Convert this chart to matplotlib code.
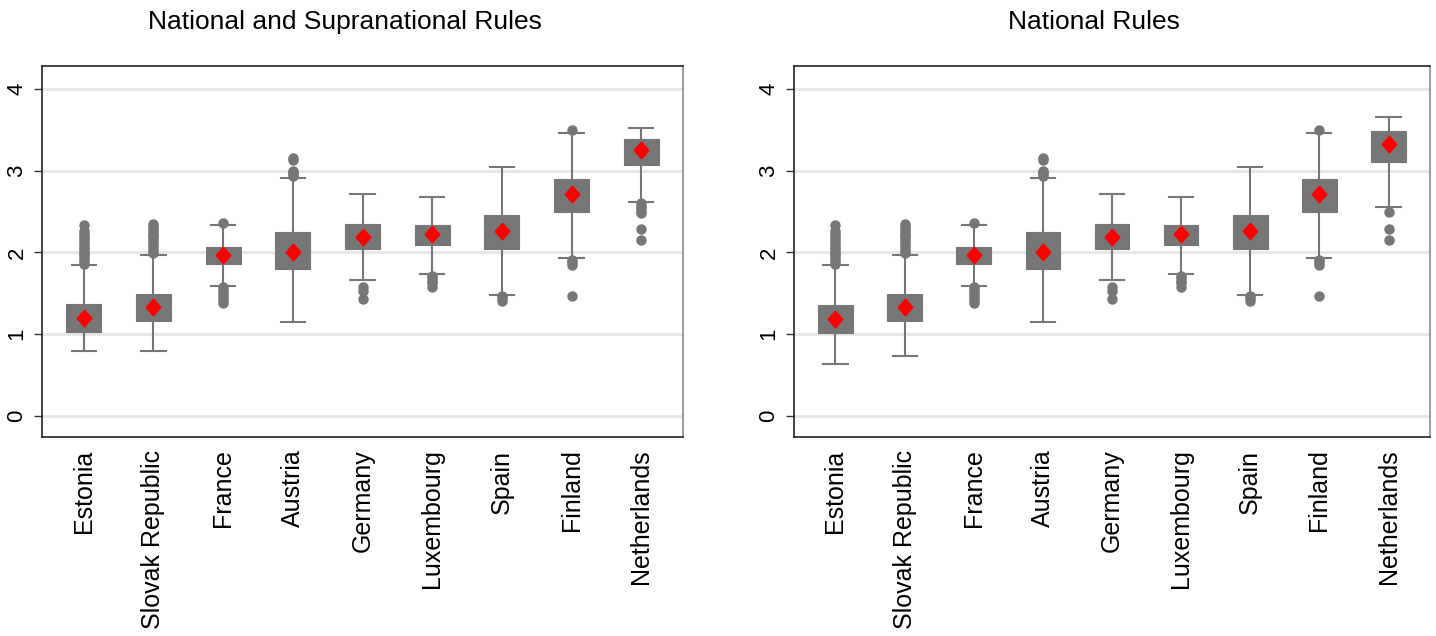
import numpy as np
import matplotlib
matplotlib.use("Agg")
import matplotlib.pyplot as plt

# Countries, in plotting order
countries = ["Estonia", "Slovak Republic", "France", "Austria", "Germany",
             "Luxembourg", "Spain", "Finland", "Netherlands"]

# Panel 1: National and Supranational Rules
q1_sup = [1.03, 1.16, 1.86, 1.80, 2.04, 2.09, 2.04, 2.49, 3.07]
q3_sup = [1.37, 1.49, 2.06, 2.25, 2.35, 2.34, 2.46, 2.90, 3.39]
mean_sup = [1.20, 1.33, 1.97, 2.01, 2.19, 2.22, 2.26, 2.71, 3.25]
wlo_sup = [0.79, 0.79, 1.59, 1.15, 1.66, 1.73, 1.48, 1.93, 2.62]
whi_sup = [1.84, 1.97, 2.34, 2.91, 2.71, 2.68, 3.05, 3.46, 3.52]
out_sup = [
    [1.86, 1.89, 1.92, 1.95, 1.98, 2.01, 2.04, 2.07, 2.10, 2.13, 2.16, 2.19, 2.22, 2.26, 2.33],
    [1.99, 2.02, 2.05, 2.08, 2.11, 2.14, 2.17, 2.20, 2.23, 2.26, 2.29, 2.32, 2.35],
    [2.36, 1.57, 1.54, 1.51, 1.48, 1.45, 1.42, 1.38],
    [2.93, 2.96, 2.98, 3.00, 3.13, 3.16],
    [1.57, 1.53, 1.43],
    [1.71, 1.68, 1.65, 1.62, 1.58],
    [1.46, 1.44, 1.41],
    [3.50, 1.91, 1.88, 1.85, 1.46],
    [2.60, 2.57, 2.54, 2.51, 2.48, 2.28, 2.15],
]

# Panel 2: National Rules
q1_nat = [1.01, 1.16, 1.86, 1.80, 2.04, 2.09, 2.04, 2.49, 3.11]
q3_nat = [1.36, 1.49, 2.06, 2.25, 2.35, 2.34, 2.46, 2.90, 3.49]
mean_nat = [1.19, 1.33, 1.97, 2.01, 2.19, 2.22, 2.26, 2.71, 3.33]
wlo_nat = [0.63, 0.73, 1.59, 1.15, 1.66, 1.73, 1.48, 1.93, 2.56]
whi_nat = [1.84, 1.97, 2.34, 2.91, 2.71, 2.68, 3.05, 3.46, 3.66]
out_nat = [
    [1.86, 1.89, 1.92, 1.95, 1.98, 2.01, 2.04, 2.07, 2.10, 2.13, 2.16, 2.19, 2.22, 2.26, 2.33],
    [1.99, 2.02, 2.05, 2.08, 2.11, 2.14, 2.17, 2.20, 2.23, 2.26, 2.29, 2.32, 2.35],
    [2.36, 1.57, 1.54, 1.51, 1.48, 1.45, 1.42, 1.38],
    [2.93, 2.96, 2.98, 3.00, 3.13, 3.16],
    [1.57, 1.53, 1.43],
    [1.71, 1.68, 1.65, 1.62, 1.58],
    [1.46, 1.44, 1.41],
    [3.50, 1.91, 1.88, 1.85, 1.46],
    [2.49, 2.28, 2.15],
]

titles = ["National and Supranational Rules", "National Rules"]
yticks = [0, 1, 2, 3, 4]

GRAY = "#767676"
FONT = "Liberation Sans"

diamond = [(0, 1), (0.88, 0), (0, -1), (-0.88, 0), (0, 1)]


def make_stats(q1, q3, mean, wlo, whi, outs):
    stats = []
    for i in range(len(q1)):
        stats.append({"med": mean[i], "q1": q1[i], "q3": q3[i], "mean": mean[i],
                      "whislo": wlo[i], "whishi": whi[i], "fliers": outs[i]})
    return stats


fig = plt.figure(figsize=(14.36, 6.36), dpi=100)
ax_pos = [[42 / 1436, 1 - 437 / 636, 641 / 1436, 371 / 636],
          [794 / 1436, 1 - 437 / 636, 636 / 1436, 371 / 636]]
title_x = [345 / 1436, 1094 / 1436]

panels = [make_stats(q1_sup, q3_sup, mean_sup, wlo_sup, whi_sup, out_sup),
          make_stats(q1_nat, q3_nat, mean_nat, wlo_nat, whi_nat, out_nat)]

for k in range(2):
    ax = fig.add_axes(ax_pos[k])
    ax.bxp(panels[k], positions=range(1, 10), widths=0.5, patch_artist=True,
           showmeans=True, capwidths=0.35,
           boxprops=dict(facecolor=GRAY, edgecolor=GRAY, linewidth=0.8),
           whiskerprops=dict(color=GRAY, linewidth=1.5),
           capprops=dict(color=GRAY, linewidth=1.5),
           medianprops=dict(linewidth=0),
           meanprops=dict(marker=diamond, markerfacecolor="red", markeredgecolor="red",
                          markersize=12),
           flierprops=dict(marker="o", markerfacecolor=GRAY, markeredgecolor=GRAY,
                           markersize=6.5))
    ax.set_xlim(0.4, 9.6)
    ax.set_ylim(-0.26, 4.28)
    ax.set_yticks(yticks)
    ax.set_yticklabels([str(t) for t in yticks], rotation=90, va="center",
                       fontsize=16, family=FONT)
    ax.set_xticks(range(1, 10))
    ax.set_xticklabels(countries, rotation=90, fontsize=18, family=FONT)
    ax.tick_params(axis="x", length=0, pad=9)
    ax.tick_params(axis="y", length=5.5, width=1, color="#333333", pad=5)
    ax.grid(axis="y", color="#e6e6e6", linewidth=2)
    ax.set_axisbelow(True)
    for side in ["left", "bottom", "top"]:
        ax.spines[side].set_color("#222222")
        ax.spines[side].set_linewidth(1.2)
    ax.spines["right"].set_color("#8a8a8a")
    ax.spines["right"].set_linewidth(1.2)
    fig.text(title_x[k], 1 - 22 / 636, titles[k], ha="center", va="center",
             fontsize=19, family=FONT)

plt.savefig("out.png", dpi=100)
